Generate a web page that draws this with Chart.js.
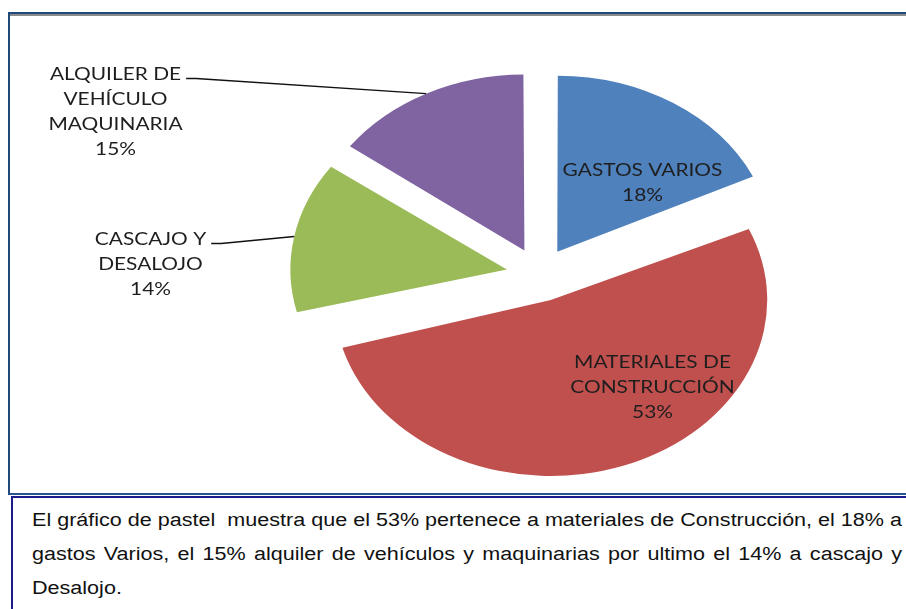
<!DOCTYPE html>
<html>
<head>
<meta charset="utf-8">
<script src="https://cdn.jsdelivr.net/npm/chart.js@4.4.0/dist/chart.umd.min.js"></script>
<style>
  html, body { margin: 0; padding: 0; background: #fff; width: 906px; height: 609px; overflow: hidden; }
  #chart { position: absolute; left: 0; top: 0; }
  .frame { position: absolute; left: 8px; top: 12px; width: 1000px; height: 479px;
    border-left: 2px solid #1F497D; border-top: 2px solid #1F497D; border-bottom: 2px solid #2B5592; }
  .shade { position: absolute; left: 10px; top: 14px; width: 900px; height: 2px; background: #8A8A8A; }
  .note { position: absolute; left: 11px; top: 496px; width: 1000px; height: 200px;
    border-left: 2px solid #1C1C8A; border-top: 2px solid #1C1C8A; }
  .para { position: absolute; left: 32px; top: 503px; font-family: "Liberation Sans", Arial, sans-serif;
    font-size: 18px; line-height: 34px; color: #111; transform-origin: 0 0; }
  .para div { white-space: nowrap; }
  .para .j { text-align: justify; text-align-last: justify; white-space: normal; }
</style>
</head>
<body>
<div class="frame"></div>
<div class="shade"></div>
<div class="note"></div>
<canvas id="chart" width="906" height="495"></canvas>
<div class="para" id="para">
  <div class="j" id="l1">El gráfico de pastel &nbsp;muestra que el 53% pertenece a materiales de Construcción, el 18% a</div>
  <div class="j" id="l2">gastos Varios, el 15% alquiler de vehículos y maquinarias por ultimo el 14% a cascajo y</div>
  <div id="l3">Desalojo.</div>
</div>
<script>
// data
const categories = ["GASTOS VARIOS", "MATERIALES DE CONSTRUCCIÓN", "CASCAJO Y DESALOJO", "ALQUILER DE VEHÍCULO MAQUINARIA"];
const values = [18, 53, 14, 15];
const labelLines = [
  ["GASTOS VARIOS"],
  ["MATERIALES DE", "CONSTRUCCIÓN"],
  ["CASCAJO Y", "DESALOJO"],
  ["ALQUILER DE", "VEHÍCULO", "MAQUINARIA"]
];
const colors = ["#4F81BD", "#C0504D", "#9BBB59", "#8064A2"];

// look
const SX = 1.23;      // horizontal stretch of the pie
const RADIUS = 176;
const GAP = 27;       // explode distance
const TX = 1.16;      // horizontal stretch of label text
const LINE_H = 25;
// label anchor relative to pie centre: centre x, first baseline
const labelPos = [
  { dx: 103, dy: -99 },
  { dx: 113, dy: 93 },
  { dx: -389, dy: -30 },
  { dx: -424, dy: -195 }
];
const outside = [false, false, true, true];

const total = values.reduce((a, b) => a + b, 0);

// chart.js grows the radius of an exploded slice by offset/4 * fix, undo that
const explode = {
  id: "explode",
  afterDatasetsUpdate(chart) {
    chart.getDatasetMeta(0).data.forEach(arc => {
      const fix = 1 - Math.sin(Math.min(Math.PI, arc.circumference));
      arc.outerRadius = RADIUS - GAP * fix;
    });
  }
};

const ellipse = {
  id: "ellipse",
  beforeDatasetsDraw(chart) {
    const { ctx, chartArea } = chart;
    const cx = (chartArea.left + chartArea.right) / 2;
    ctx.save();
    ctx.translate(cx, 0);
    ctx.scale(SX, 1);
    ctx.translate(-cx, 0);
  },
  afterDatasetsDraw(chart) {
    chart.ctx.restore();
  }
};

const sliceLabels = {
  id: "sliceLabels",
  afterDraw(chart) {
    const { ctx } = chart;
    const arcs = chart.getDatasetMeta(0).data;
    ctx.save();
    ctx.font = '18px Lato, "Open Sans", sans-serif';
    ctx.fillStyle = "#1E1E1E";
    ctx.strokeStyle = "#111";
    ctx.lineWidth = 1.4;
    ctx.textAlign = "center";
    ctx.textBaseline = "alphabetic";
    arcs.forEach((arc, i) => {
      const cx = arc.x, cy = arc.y;
      const lines = labelLines[i].concat([Math.round(values[i] / total * 100) + "%"]);
      const x = cx + labelPos[i].dx;
      const y0 = cy + labelPos[i].dy;
      lines.forEach((t, k) => {
        ctx.save();
        ctx.translate(x, y0 + k * LINE_H);
        ctx.scale(TX, 1);
        ctx.fillText(t, 0, 0);
        ctx.restore();
      });
      if (outside[i]) {
        const w = ctx.measureText(lines[0]).width * TX;
        const sx0 = x + w / 2 + 5;
        const sy0 = y0 - 1;
        const mid = (arc.startAngle + arc.endAngle) / 2;
        const px = cx + Math.cos(mid) * (GAP + RADIUS);
        const py = cy + Math.sin(mid) * (GAP + RADIUS);
        ctx.beginPath();
        ctx.moveTo(sx0, sy0);
        ctx.lineTo(sx0 + 10, sy0);
        ctx.lineTo(cx + (px - cx) * SX, py);
        ctx.stroke();
      }
    });
    ctx.restore();
  }
};

new Chart(document.getElementById("chart"), {
  type: "pie",
  data: {
    labels: categories,
    datasets: [{
      data: values,
      backgroundColor: colors,
      borderWidth: 0,
      offset: GAP * 4,
      clip: false
    }]
  },
  options: {
    responsive: false,
    animation: false,
    events: [],
    radius: RADIUS,
    layout: { padding: { left: 173, right: 0, top: 54, bottom: 0 } },
    plugins: { legend: { display: false }, tooltip: { enabled: false } }
  },
  plugins: [explode, ellipse, sliceLabels]
});

// fit the paragraph to the box width
const para = document.getElementById("para");
const l1 = document.getElementById("l1");
const probe = document.createElement("span");
probe.style.whiteSpace = "nowrap";
probe.innerHTML = l1.innerHTML;
para.appendChild(probe);
const natural = probe.getBoundingClientRect().width;
para.removeChild(probe);
const target = 870;
const k = target / natural;
para.style.width = natural + "px";
para.style.transform = "scaleX(" + k + ")";
</script>
</body>
</html>
